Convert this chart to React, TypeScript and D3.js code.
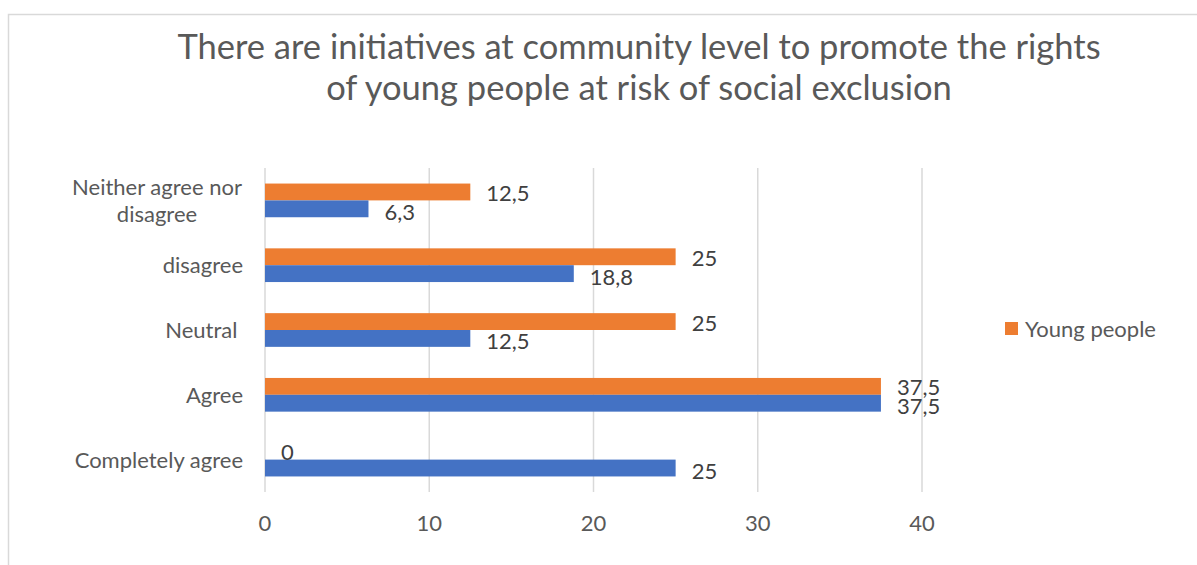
import React from "react";
import * as d3 from "d3";

const categories = ["Neither agree nor disagree", "disagree", "Neutral ", "Agree", "Completely agree"];
const categoryLines = [["Neither agree nor", "disagree"], ["disagree"], ["Neutral "], ["Agree"], ["Completely agree"]];
const youngPeople = [12.5, 25, 25, 37.5, 0];
const professionals = [6.3, 18.8, 12.5, 37.5, 25];
const ticks = [0, 10, 20, 30, 40];
const titleLines = [
  "There are initiatives at community level to promote the rights",
  "of young people at risk of social exclusion",
];

const ORANGE = "#ED7D31";
const BLUE = "#4472C4";
const TEXT = "#595959";
const FONT = "Lato, 'Open Sans', sans-serif";

export default function App() {
  const W = 1197, H = 565;
  const x = d3.scaleLinear().domain([0, 40]).range([265, 922]);
  const y = d3.scaleBand().domain(categories).range([168, 492]).paddingInner(0.48).paddingOuter(0.24);
  const inner = d3.scaleBand().domain(["young", "prof"]).range([0, y.bandwidth()]);
  const fmt = (v: number) => String(v).replace(".", ",");

  return (
    <svg width={W} height={H} style={{ position: "absolute", left: 0, top: 0, background: "#fff" }} fontFamily={FONT}>
      <rect x={8.5} y={14.5} width={W + 10} height={H + 10} fill="#fff" stroke="#d9d9d9" strokeWidth={1.5} />
      {titleLines.map((t, i) => (
        <text key={i} x={639} y={59 + i * 41} textAnchor="middle" fontSize={34.5} fill={TEXT}>{t}</text>
      ))}
      {ticks.map((t) => (
        <g key={t}>
          <line x1={x(t)} x2={x(t)} y1={168} y2={492} stroke="#d9d9d9" strokeWidth={1.5} />
          <text x={x(t)} y={531} textAnchor="middle" fontSize={22} fill={TEXT}>{t}</text>
        </g>
      ))}
      {categories.map((c, i) => {
        const y0 = y(c)!;
        const cy = y0 + y.bandwidth() / 2;
        const lines = categoryLines[i];
        return (
          <g key={c}>
            <rect x={x(0)} y={y0 + inner("young")!} width={x(youngPeople[i]) - x(0)} height={inner.bandwidth()} fill={ORANGE} />
            <rect x={x(0)} y={y0 + inner("prof")!} width={x(professionals[i]) - x(0)} height={inner.bandwidth()} fill={BLUE} />
            <text x={x(youngPeople[i]) + 16} y={y0 + inner("young")! + inner.bandwidth() / 2 + 9} fontSize={22} fill="#404040">{fmt(youngPeople[i])}</text>
            <text x={x(professionals[i]) + 16} y={y0 + inner("prof")! + inner.bandwidth() / 2 + 11} fontSize={22} fill="#404040">{fmt(professionals[i])}</text>
            {lines.map((l, j) => (
              <text key={j} x={lines.length > 1 ? 157 : 243} y={cy + 8 + (j - (lines.length - 1) / 2) * 27} textAnchor={lines.length > 1 ? "middle" : "end"} fontSize={22} fill={TEXT} style={{ whiteSpace: "pre" }}>{l}</text>
            ))}
          </g>
        );
      })}
      <rect x={1005} y={322} width={13} height={13} fill={ORANGE} />
      <text x={1025} y={337} fontSize={22} fill={TEXT}>Young people</text>
    </svg>
  );
}
